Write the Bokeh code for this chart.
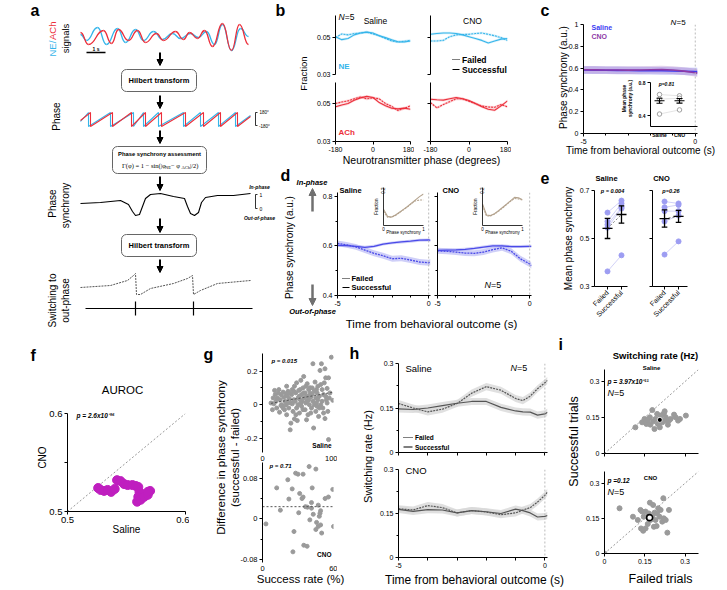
import math
from bokeh.plotting import figure
from bokeh.models import Range1d, FixedTicker, Column, Arrow, NormalHead, Span
from bokeh.core.properties import value
from bokeh.embed import file_html
from bokeh.resources import INLINE

FONT = "Liberation Sans"
SERIF = "Liberation Serif"

# ======================= DATA =======================
# (a) schematic traces (extremes)
a_ne_x = [80, 86, 97, 106, 117, 125, 135, 143, 153, 162, 172, 180, 190, 198, 206, 214, 222, 231, 240, 248]
a_ne_y = [34, 40, 27, 44, 28, 42, 29, 40, 31, 39, 33, 38, 33, 37, 31, 44, 24, 50, 28, 36]
a_ach_x = [80, 88, 103, 111, 118, 128, 137, 145, 156, 163, 175, 183, 189, 197, 204, 212, 222, 231, 239, 248]
a_ach_y = [32, 44, 30, 43, 29, 40, 30, 42, 33, 40, 31, 39, 32, 38, 30, 46, 23, 50, 24, 44]
a_ph_ne_x = [80, 88, 88, 110, 110, 133, 133, 143, 143, 158, 158, 183, 183, 200, 200, 218, 218, 235, 235, 250]
a_ph_ne_y = [121, 112, 126, 112, 126, 112, 126, 112, 126, 112, 126, 112, 126, 112, 126, 112, 126, 112, 126, 115]
a_ph_ach_x = [80, 90, 90, 112, 112, 131, 131, 145, 145, 161, 161, 185, 185, 203, 203, 220, 220, 237, 237, 250]
a_ph_ach_y = [120, 112, 126, 112, 126, 112, 126, 112, 126, 112, 126, 112, 126, 112, 126, 112, 126, 112, 126, 116]
a_sync_x = [80, 100, 120, 128, 132, 135, 139, 142, 145, 150, 160, 173, 184, 187, 190, 194, 198, 201, 205, 217, 233, 250]
a_sync_y = [203, 202, 200, 204, 211, 215, 214, 206, 198, 194, 193, 196, 198, 206, 213, 215, 212, 202, 197, 195, 195, 193]
a_sw_x = [80, 110, 127, 133, 135, 136, 140, 150, 173, 187, 192, 193, 200, 217, 250]
a_sw_y = [287, 285, 280, 275, 273, 294, 294, 288, 283, 278, 275, 294, 290, 283, 280]
a_events = [135, 193]

# (b) phase distributions
b_phase = [-180, -150, -120, -90, -60, -30, 0, 30, 60, 90, 120, 150, 180]
b_ne_sal_failed = [0.0500, 0.0520, 0.0515, 0.0522, 0.0525, 0.0530, 0.0520, 0.0510, 0.0495, 0.0482, 0.0476, 0.0480, 0.0485]
b_ne_sal_success = [0.0505, 0.0489, 0.0495, 0.0515, 0.0525, 0.0530, 0.0525, 0.0510, 0.0500, 0.0488, 0.0478, 0.0476, 0.0482]
b_ne_cno_failed = [0.0482, 0.0482, 0.0485, 0.0505, 0.0515, 0.0517, 0.0518, 0.0522, 0.0525, 0.0518, 0.0510, 0.0500, 0.0485]
b_ne_cno_success = [0.0518, 0.0522, 0.0525, 0.0525, 0.0522, 0.0515, 0.0505, 0.0495, 0.0485, 0.0471, 0.0482, 0.0492, 0.0495]
b_ach_sal_failed = [0.0500, 0.0508, 0.0514, 0.0525, 0.0535, 0.0525, 0.0530, 0.0525, 0.0500, 0.0485, 0.0463, 0.0475, 0.0488]
b_ach_sal_success = [0.0483, 0.0492, 0.0500, 0.0518, 0.0530, 0.0538, 0.0532, 0.0505, 0.0488, 0.0475, 0.0472, 0.0476, 0.0470]
b_ach_cno_failed = [0.0505, 0.0477, 0.0495, 0.0510, 0.0525, 0.0525, 0.0512, 0.0500, 0.0487, 0.0482, 0.0480, 0.0495, 0.0483]
b_ach_cno_success = [0.0523, 0.0520, 0.0518, 0.0525, 0.0532, 0.0525, 0.0516, 0.0500, 0.0483, 0.0470, 0.0465, 0.0488, 0.0514]
b_sem = 0.0007

# (c) phase synchrony, saline vs CNO
c_time = [-5, -4.5, -4, -3.5, -3, -2.5, -2, -1.5, -1, -0.5, 0, 0.1]
c_saline = [0.582, 0.581, 0.580, 0.579, 0.578, 0.577, 0.576, 0.575, 0.573, 0.571, 0.568, 0.568]
c_cno = [0.585, 0.584, 0.583, 0.582, 0.581, 0.583, 0.585, 0.586, 0.582, 0.572, 0.558, 0.554]
c_sem = 0.035
c_in_groups = [0, 1]
c_in_labels = ["Saline", "CNO"]
c_in_saline = [0.655, 0.600, 0.420]
c_in_cno = [0.640, 0.610, 0.470]
c_in_mean = [0.580, 0.580]
c_in_err = [0.030, 0.028]

# (d) phase synchrony, failed vs successful
d_time = [-5, -4.5, -4, -3.5, -3, -2.5, -2, -1.5, -1, -0.5, 0, 0.1]
d_sal_success = [0.602, 0.601, 0.598, 0.594, 0.598, 0.607, 0.612, 0.616, 0.619, 0.623, 0.624, 0.622]
d_sal_failed = [0.610, 0.604, 0.596, 0.583, 0.570, 0.560, 0.548, 0.550, 0.543, 0.535, 0.532, 0.535]
d_cno_success = [0.582, 0.583, 0.584, 0.586, 0.590, 0.595, 0.600, 0.600, 0.597, 0.597, 0.598, 0.598]
d_cno_failed = [0.580, 0.578, 0.575, 0.571, 0.570, 0.575, 0.585, 0.592, 0.578, 0.548, 0.527, 0.520]
d_sem_success = 0.006
d_sem_failed = 0.012
d_in_x = [0, 0.1, 0.2, 0.3, 0.4, 0.5, 0.6, 0.7, 0.8, 0.9, 1.0]
d_in_sal_success = [0.085, 0.048, 0.045, 0.055, 0.070, 0.085, 0.100, 0.118, 0.135, 0.152, 0.166]
d_in_sal_failed = [0.075, 0.044, 0.043, 0.053, 0.068, 0.083, 0.098, 0.115, 0.130, 0.134, 0.134]
d_in_cno_success = [0.114, 0.055, 0.052, 0.062, 0.078, 0.095, 0.112, 0.130, 0.148, 0.146, 0.136]
d_in_cno_failed = [0.105, 0.050, 0.050, 0.060, 0.075, 0.092, 0.110, 0.128, 0.142, 0.140, 0.134]

# (e) mean phase synchrony per animal
e_cats = [0, 1]
e_cat_labels = ["Failed", "Successful"]
e_sal_failed = [0.608, 0.571, 0.558, 0.545, 0.363]
e_sal_success = [0.658, 0.646, 0.630, 0.625, 0.430]
e_sal_mean = [0.542, 0.600]
e_sal_err = [0.042, 0.036]
e_cno_failed = [0.654, 0.630, 0.614, 0.571, 0.433]
e_cno_success = [0.646, 0.640, 0.614, 0.596, 0.488]
e_cno_mean = [0.583, 0.592]
e_cno_err = [0.036, 0.025]

# (f) AUROC saline vs CNO
f_saline = [0.526, 0.528, 0.531, 0.534, 0.537, 0.540, 0.542, 0.545, 0.548, 0.551, 0.555, 0.558, 0.560, 0.561, 0.560, 0.559, 0.562, 0.565, 0.568, 0.570, 0.568]
f_cno = [0.524, 0.522, 0.521, 0.522, 0.520, 0.523, 0.532, 0.531, 0.528, 0.527, 0.527, 0.526, 0.525, 0.520, 0.515, 0.510, 0.512, 0.515, 0.517, 0.521, 0.520]
f_diag = [0.5, 0.6]

# (g) difference vs success rate
g_sal_rate = [12, 14, 16, 17, 18, 20, 21, 22, 23, 24, 25, 26, 27, 28, 29, 30, 31, 32, 33, 34,
              35, 36, 37, 38, 39, 40, 40, 41, 42, 43, 44, 45, 45, 46, 47, 48, 49, 50, 50, 51,
              52, 53, 54, 55, 55, 56, 57, 58, 59, 60, 60, 61, 62, 63, 64, 65, 65, 66, 67, 68,
              69, 70, 71, 71, 72, 73, 74, 75, 75, 76, 77, 78, 79, 80, 81, 82, 83, 84, 85, 86,
              87, 88, 88, 89, 90, 91, 92, 93, 93, 95, 97, 99, 15, 19, 26, 33, 36, 42, 44, 47,
              52, 54, 57, 58, 61, 63, 66, 68, 70, 73, 76, 78, 80, 82, 84, 86, 89, 91, 94, 34,
              48, 62, 38, 29, 53, 67, 77]
g_sal_diff = [0.010, -0.030, 0.005, 0.085, 0.060, -0.020, 0.040, 0.070, 0.090, -0.045, 0.030, 0.060, 0.000, -0.010, 0.075, 0.045, -0.030, 0.020, 0.065, -0.060,
              0.050, 0.080, -0.020, 0.035, -0.150, 0.010, -0.110, 0.060, 0.090, -0.040, 0.030, -0.085, 0.110, 0.020, 0.070, -0.020, -0.095, 0.040, 0.000, 0.085,
              -0.050, 0.030, 0.145, 0.060, -0.010, 0.020, 0.100, 0.168, 0.040, -0.030, 0.070, 0.010, 0.050, 0.125, -0.060, 0.030, 0.090, 0.000, 0.101, 0.045,
              -0.020, 0.060, 0.244, 0.020, -0.139, 0.080, 0.135, 0.040, -0.040, 0.010, 0.070, 0.110, -0.070, 0.050, 0.204, 0.000, 0.244, 0.090, -0.020, 0.060,
              0.130, 0.214, -0.083, 0.160, 0.030, 0.097, -0.040, 0.160, -0.208, 0.070, 0.283, 0.026, 0.040, 0.020, -0.005, 0.000, 0.010, 0.005, 0.080, -0.060,
              0.050, 0.010, -0.030, 0.070, 0.110, 0.020, 0.050, -0.050, 0.100, 0.000, 0.090, 0.030, -0.020, 0.120, 0.020, -0.050, 0.050, 0.010, 0.040, 0.110,
              0.130, -0.090, 0.070, -0.020, 0.090, 0.070, -0.010]
g_sal_fit_x = [12, 100]
g_sal_fit_y = [0.008, 0.075]
g_cno_rate = [2.9, 12.0, 15.1, 21.4, 22.3, 25.1, 26.6, 25.7, 28.0, 30.0, 31.4, 30.6, 34.3, 33.4, 34.3, 34.9, 37.7, 36.3, 38.0, 39.4,
              41.4, 42.0, 41.4, 40.0, 42.9, 45.1, 45.7, 47.1, 47.1, 45.1, 48.6, 49.1, 48.0, 49.1, 52.9, 55.7, 59.4, 60.0, 50.0]
g_cno_diff = [-0.010, 0.061, 0.017, 0.077, 0.039, 0.059, -0.025, -0.065, 0.090, 0.088, 0.050, 0.012, 0.088, 0.040, 0.043, -0.052, -0.054, 0.024, 0.023, 0.103,
              0.032, 0.061, 0.021, -0.002, 0.009, 0.098, -0.007, 0.027, -0.015, -0.021, 0.011, 0.016, 0.005, -0.012, 0.040, 0.043, 0.058, -0.015, -0.028]
g_cno_fit_x = [0, 60]
g_cno_fit_y = [0.024, 0.024]

# (h) switching rate over time
h_time = [-5, -4.5, -4, -3.5, -3, -2.5, -2, -1.5, -1, -0.75, -0.5, -0.25, 0, 0.09]
h_sal_success = [0.147, 0.145, 0.150, 0.158, 0.166, 0.172, 0.172, 0.152, 0.140, 0.137, 0.136, 0.126, 0.130, 0.136]
h_sal_failed = [0.165, 0.150, 0.137, 0.146, 0.165, 0.200, 0.222, 0.210, 0.182, 0.175, 0.190, 0.215, 0.235, 0.243]
h_cno_success = [0.164, 0.157, 0.163, 0.162, 0.152, 0.160, 0.156, 0.150, 0.165, 0.160, 0.152, 0.138, 0.140, 0.143]
h_cno_failed = [0.166, 0.162, 0.177, 0.170, 0.152, 0.160, 0.155, 0.146, 0.152, 0.162, 0.170, 0.189, 0.212, 0.223]
h_sem = 0.012

# (i) switching rate failed vs successful
i_sal_failed = [0.115, 0.140, 0.149, 0.156, 0.161, 0.169, 0.178, 0.181, 0.186, 0.190, 0.196, 0.199, 0.206, 0.211, 0.215, 0.221, 0.224, 0.228, 0.231, 0.236,
                0.240, 0.246, 0.259, 0.265, 0.274, 0.281, 0.303, 0.171, 0.209]
i_sal_success = [0.109, 0.130, 0.144, 0.123, 0.140, 0.151, 0.181, 0.134, 0.102, 0.144, 0.165, 0.123, 0.109, 0.140, 0.130, 0.167, 0.176, 0.151, 0.137, 0.120,
                 0.137, 0.144, 0.162, 0.151, 0.137, 0.144, 0.158, 0.120, 0.158]
i_sal_mean = [0.206, 0.140]
i_cno_failed = [0.056, 0.106, 0.124, 0.134, 0.140, 0.146, 0.136, 0.144, 0.153, 0.161, 0.165, 0.169, 0.171, 0.178, 0.181, 0.186, 0.190, 0.194, 0.196, 0.200,
                0.205, 0.209, 0.215, 0.221, 0.219, 0.228, 0.234, 0.240, 0.153, 0.161, 0.184, 0.0]
i_cno_success = [0.193, 0.157, 0.143, 0.186, 0.179, 0.157, 0.107, 0.097, 0.107, 0.126, 0.171, 0.217, 0.143, 0.157, 0.207, 0.174, 0.143, 0.117, 0.171, 0.193,
                 0.157, 0.186, 0.136, 0.150, 0.236, 0.143, 0.089, 0.186, 0.179, 0.157, 0.114, 0.0]
i_cno_mean = [0.168, 0.153]
i_diag = [0, 0.35]

# ======================= STYLE =======================
NE_C = "#35b5ea"
ACH_C = "#ec2f3b"
D_LINE = "#4a4ae8"
D_BAND = "#a8a8f2"
C_SAL = "#3b3bf2"
C_CNO = "#8e3aa6"
E_PT = "#9d9df2"
F_MAG = "#bf1fbf"
G_PT = "#9a9a9a"
H_LINE = "#555555"
H_BAND = "#d8d8d8"
IN_D = "#b4a38e"
V = math.pi / 2
ML = 36   # identical left border for every figure
MR = 4    # identical right border for every figure


def panel(x0, y0, x1, y1, xr, yr, mt=4, mb=28, axes=True):
    w = (x1 - x0) + ML + MR
    h = (y1 - y0) + mt + mb
    kw = {} if axes else {"x_axis_type": None, "y_axis_type": None}
    p = figure(width=w, height=h, x_range=Range1d(*xr), y_range=Range1d(*yr),
               output_backend="svg", toolbar_location=None,
               min_border_left=ML, min_border_right=MR, min_border_top=mt, min_border_bottom=mb,
               styles={"position": "absolute", "left": f"{x0 - ML}px", "top": f"{y0 - mt}px"}, **kw)
    p.background_fill_color = None
    p.border_fill_color = None
    p.outline_line_color = None
    p.grid.visible = False
    for ax in p.axis:
        ax.axis_line_width = 1
        ax.axis_line_color = "black"
        ax.major_tick_in = 0
        ax.major_tick_out = 3
        ax.minor_tick_in = 0
        ax.minor_tick_out = 2
        ax.major_tick_line_color = "black"
        ax.minor_tick_line_color = "black"
        ax.major_label_text_font = FONT
        ax.major_label_text_font_size = "7px"
        ax.major_label_text_color = "black"
        ax.major_label_standoff = 2
    return p


def set_ticks(ax, major, labels=None, minor=None, size=None):
    ax.ticker = FixedTicker(ticks=list(major), minor_ticks=list(minor or []))
    if labels is None:
        labels = [""] * len(major)
    ax.major_label_overrides = {m: l for m, l in zip(major, labels)}
    if size:
        ax.major_label_text_font_size = size


def band(p, x, y, err, color, alpha):
    p.varea(x=x, y1=[v - err for v in y], y2=[v + err for v in y], fill_color=color, fill_alpha=alpha)


panels = []

# ======================= CANVASES (panel a + free texts), 2 x 2 tiles =======================
XS = 330   # left edge of right tiles
YS = 333   # row split
canv = [[panel(8, 0, 400, 335, (8, 400), (335, 0), mt=0, mb=0, axes=False),
         panel(330, 0, 719, 335, (330, 719), (335, 0), mt=0, mb=0, axes=False)],
        [panel(8, 330, 400, 590, (8, 400), (590, 330), mt=0, mb=0, axes=False),
         panel(330, 330, 719, 590, (330, 719), (590, 330), mt=0, mb=0, axes=False)]]


def pick(x, y, col=None):
    c = col if col is not None else (0 if x < XS else 1)
    r = 0 if y < YS else 1
    return canv[r][c]


def T(x, y, s, size, color="black", style="normal", align="left", baseline="middle", angle=0.0,
      font=FONT, col=None):
    pick(x, y, col).text(x=[x], y=[y], text=[s], text_font=value(font), text_font_size=value(f"{size}px"),
                         text_color=color, text_font_style=style, text_align=align,
                         text_baseline=baseline, angle=angle)


def L(xs, ys, color="black", width=1.0, dash="solid"):
    pick(min(xs), min(ys)).line(x=xs, y=ys, line_color=color, line_width=width, line_dash=dash)


def ARR(x, y0, y1, color="black", width=2.0, size=6):
    pick(x, min(y0, y1)).add_layout(Arrow(end=NormalHead(size=size, fill_color=color, line_color=color),
                                          x_start=x, y_start=y0, x_end=x, y_end=y1,
                                          line_color=color, line_width=width))


def smooth_wave(p, xs, ys, color, width):
    # smooth S-shaped Bezier segment between consecutive extremes (horizontal tangents at extremes)
    x0, x1 = xs[:-1], xs[1:]
    y0, y1 = ys[:-1], ys[1:]
    cx0 = [a + (b - a) / 2.0 for a, b in zip(x0, x1)]
    cx1 = [b - (b - a) / 2.0 for a, b in zip(x0, x1)]
    p.bezier(x0=x0, y0=y0, x1=x1, y1=y1, cx0=cx0, cy0=y0, cx1=cx1, cy1=y1,
             line_color=color, line_width=width)


CA = canv[0][0]
# panel a traces
smooth_wave(CA, a_ne_x, a_ne_y, NE_C, 1.3)
smooth_wave(CA, a_ach_x, a_ach_y, ACH_C, 1.3)
CA.line(a_ph_ne_x, a_ph_ne_y, line_color=NE_C, line_width=1.1)
CA.line(a_ph_ach_x, a_ph_ach_y, line_color=ACH_C, line_width=1.1)
CA.line(a_sync_x, a_sync_y, line_color="black", line_width=1.1, line_join="round")
CA.line(a_sw_x, a_sw_y, line_color="#555555", line_width=1.0, line_dash="2 1")
L([85, 252], [308, 308], width=1.2)
CA.segment(x0=a_events, x1=a_events, y0=[301] * len(a_events), y1=[315] * len(a_events),
           line_color="black", line_width=1.2)
L([86, 105], [52, 52], width=1.6)
T(95.5, 48.5, "1 s", 5, style="bold", align="center")

for (bx0, by0, bx1, by1) in [(121, 69, 196, 91), (112, 146, 206, 173), (121, 234, 196, 256)]:
    try:
        CA.quad(left=bx0, right=bx1, top=by0, bottom=by1, fill_color="white",
                line_color="#666666", line_width=1, border_radius=5)
    except Exception:
        CA.quad(left=bx0, right=bx1, top=by0, bottom=by1, fill_color="white",
                line_color="#666666", line_width=1)
T(158.5, 80, "Hilbert transform", 7.5, style="bold", align="center")
T(158.5, 245, "Hilbert transform", 7.5, style="bold", align="center")
T(159, 153, "Phase synchrony assessment", 5.8, style="bold", align="center")
T(121.5, 165, "Γ(φ) = 1 − sin(|φ", 6.5, font=SERIF)
T(164.5, 166.5, "NE", 4.5, font=SERIF)
T(170.5, 165, " − φ", 6.5, font=SERIF)
T(181, 166.5, "ACh", 4.5, font=SERIF)
T(189.5, 165, "|/2)", 6.5, font=SERIF)
for (ya, yb) in [(52, 65), (95, 108), (130, 143), (176, 190), (218, 232), (259, 272)]:
    ARR(159.5, ya, yb)

T(52, 56, "NE/", 9.5, color=NE_C, angle=V)
T(52, 39.5, "ACh", 9.5, color=ACH_C, angle=V)
T(64.5, 38, "signals", 9.5, align="center", angle=V)
T(56, 116, "Phase", 10, align="center", angle=V)
T(52, 203, "Phase", 10, align="center", angle=V)
T(65, 205, "synchrony", 10, align="center", angle=V)
T(52, 300, "Switching to", 10, align="center", angle=V)
T(65, 300, "out-phase", 10, align="center", angle=V)

L([257, 255, 255, 257], [112, 112, 125, 125], width=0.8)
T(259, 112, "180°", 4.5)
T(258.5, 126, "-180°", 4.5)
T(259, 186, "In-phase", 5, style="bold italic", align="center")
L([257, 255, 255, 257], [194, 194, 208, 208], width=0.8)
T(259, 194, "1", 5)
T(259, 208, "0", 5)
T(259, 217, "Out-of-phase", 5, style="bold italic", align="center")

# panel letters
for (lx, ly, lt) in [(30, 18, "a"), (275, 18, "b"), (540, 18, "c"), (280, 183, "d"), (540, 183, "e"),
                     (30, 363, "f"), (203, 362, "g"), (349, 361, "h"), (558, 352, "i")]:
    T(lx, ly, lt, 16, style="bold", baseline="bottom")

# panel b texts
T(338, 16, "N", 8.5, style="italic")
T(344.2, 16, "=5", 8.5)
T(375, 20.5, "Saline", 8.5, align="center")
T(472, 20.5, "CNO", 8.5, align="center")
T(338, 66, "NE", 8, color=NE_C, style="bold")
T(338, 132, "ACh", 8, color=ACH_C, style="bold")
L([452, 459], [59, 59], width=1.2, dash="1 1")
T(461.5, 59, "Failed", 8.5, style="bold")
L([452, 459], [69, 69], width=1.2)
T(461.5, 69, "Successful", 8.5, style="bold")
T(303, 73, "Fraction", 9.5, align="center", angle=V)
T(421, 159, "Neurotransmitter phase (degrees)", 10.5, align="center")

# panel c texts
T(591, 26.5, "Saline", 7, color=C_SAL, style="bold")
T(591, 36, "CNO", 7, color=C_CNO, style="bold")
T(670, 22, "N", 8, style="italic")
T(676, 22, "=5", 8)
T(563, 77, "Phase synchrony (a.u.)", 10, align="center", angle=V)
T(640, 150, "Time from behavioral outcome (s)", 10, align="center")
T(666, 83.5, "p=0.81", 5, style="bold italic", align="center")
T(623.5, 98, "Mean phase", 4.8, style="bold", align="center", angle=V)
T(629.5, 98, "synchrony (a.u.)", 4.8, style="bold", align="center", angle=V)

# panel d texts
T(339, 190, "Saline", 7.5, style="bold")
T(442, 190, "CNO", 7.5, style="bold")
T(311.5, 182, "In-phase", 7.5, style="bold italic", align="center")
ARR(312, 211, 188, color="#707070", width=2.5, size=7)
ARR(312, 284, 305, color="#707070", width=2.5, size=7)
T(312, 311, "Out-of-phase", 7.5, style="bold italic", align="center")
T(289, 247, "Phase synchrony (a.u.)", 10, align="center", angle=V)
T(431, 323, "Time from behavioral outcome (s)", 11.5, align="center")
L([342, 349], [278, 278], width=1.2, dash="1 1")
T(351, 278, "Failed", 7.5, style="bold")
L([342, 349], [287, 287], width=1.2)
T(351, 287, "Successful", 7.5, style="bold")
T(484, 284, "N", 9, style="italic")
T(490.5, 284, "=5", 9)
T(376, 206, "Fraction", 4.5, align="center", angle=V)
T(403, 231.5, "Phase synchrony", 4.5, align="center")
T(502, 231.5, "Phase synchrony", 4.5, align="center")
T(475, 206, "Fraction", 4.5, align="center", angle=V)

# panel e texts
T(606, 178, "Saline", 7.5, style="bold", align="center")
T(661, 178, "CNO", 7.5, style="bold", align="center")
T(612, 190, "p = 0.004", 5.5, style="bold italic", align="center")
T(670.5, 190, "p=0.26", 5.5, style="bold italic", align="center")
T(568, 238, "Mean phase synchrony", 10, align="center", angle=V)

# panel f texts
T(122, 389, "AUROC", 11.5, align="center")
T(76, 415, "p = 2.6x10⁻³⁶", 6.5, style="bold italic")
T(42, 457, "CNO", 10, align="center", angle=V)
T(126, 529, "Saline", 10, align="center")

# panel g texts
T(271, 360, "p = 0.015", 6, style="bold italic")
T(331, 445, "Saline", 6.5, style="bold", align="right", col=0)
T(269, 465.5, "p = 0.71", 6, style="bold italic")
T(331, 553.5, "CNO", 6.5, style="bold", align="right", col=0)
T(220, 457, "Difference in phase synchrony", 11.5, align="center", angle=V)
T(234, 457, "(successful - failed)", 11.5, align="center", angle=V)
T(300, 578, "Success rate (%)", 11.5, align="center")

# panel h texts
T(405, 367.5, "Saline", 9.5)
T(405, 469.5, "CNO", 9.5)
T(510, 367.5, "N", 9, style="italic")
T(516.5, 367.5, "=5", 9)
L([403, 412], [437, 437], width=1.1, dash="1 1")
T(414.5, 437, "Failed", 6.5, style="bold")
L([403, 412], [446.5, 446.5], width=1.1)
T(414.5, 446.5, "Successful", 6.5, style="bold")
T(367, 456, "Switching rate (Hz)", 11, align="center", angle=V)
T(474, 579, "Time from behavioral outcome (s)", 12, align="center")

# panel i texts
T(655, 355, "Switching rate (Hz)", 9.5, style="bold", align="center")
T(651, 367, "Saline", 6, style="bold", align="center")
T(607, 381, "p = 3.97x10⁻¹¹", 6.5, style="bold italic")
T(607, 392.5, "N", 9, style="italic")
T(613.5, 392.5, "=5", 9)
T(650, 477, "CNO", 6, style="bold", align="center")
T(607, 479.5, "p =0.12", 6.5, style="bold italic")
T(607, 491, "N", 9, style="italic")
T(613.5, 491, "=5", 9)
T(573, 441, "Successful trials", 12.5, align="center", angle=V)
T(660, 578, "Failed trials", 12.5, align="center")


# ======================= PANEL b =======================
def b_panel(x0, y0, x1, y1, ytop, failed, success, color, ylab, xlab):
    p = panel(x0, y0, x1, y1, (-180, 180), (0.03, ytop))
    band(p, b_phase, failed, b_sem, color, 0.2)
    band(p, b_phase, success, b_sem, color, 0.2)
    p.line(b_phase, failed, line_color=color, line_width=1.1, line_dash="2 1")
    p.line(b_phase, success, line_color=color, line_width=1.1)
    set_ticks(p.yaxis[0], [0.03, 0.05], ["0.03", "0.05"] if ylab else None)
    if xlab:
        set_ticks(p.xaxis[0], [-180, 0, 180], ["-180", "0", "180"])
    else:
        p.xaxis.visible = False
    panels.append(p)


b_panel(335, 15, 410, 74, 0.062, b_ne_sal_failed, b_ne_sal_success, NE_C, True, False)
b_panel(430, 15, 507, 74, 0.062, b_ne_cno_failed, b_ne_cno_success, NE_C, False, False)
b_panel(335, 82, 410, 141, 0.0611, b_ach_sal_failed, b_ach_sal_success, ACH_C, True, True)
b_panel(430, 82, 507, 141, 0.0611, b_ach_cno_failed, b_ach_cno_success, ACH_C, False, True)

# ======================= PANEL c =======================
cp = panel(583, 24, 697, 133, (-5, 0.1), (0, 1))
band(cp, c_time, c_saline, c_sem, "#8c8cf0", 0.45)
band(cp, c_time, c_cno, c_sem, "#b58cd0", 0.4)
cp.line(c_time, c_saline, line_color=C_SAL, line_width=1.6)
cp.line(c_time, c_cno, line_color=C_CNO, line_width=1.6)
cp.add_layout(Span(location=0, dimension="height", line_color="#bbbbbb", line_dash="2 2", line_width=1))
set_ticks(cp.yaxis[0], [0, 0.2, 0.4, 0.6, 0.8, 1], ["0", "0.2", "0.4", "0.6", "0.8", "1"])
set_ticks(cp.xaxis[0], [-5, 0], ["-5", "0"], minor=[-4, -3, -2, -1])
panels.append(cp)

ci = panel(650, 82, 697, 126, (-0.45, 1.9), (0.27, 0.8), mb=14, mt=4)
ci.segment(x0=[0] * 3, x1=[1] * 3, y0=c_in_saline, y1=c_in_cno, line_color="#dddddd", line_width=0.8)
ci.scatter([0] * 3, c_in_saline, size=4.5, marker="circle", fill_color="white", line_color="#a0a0a0")
ci.scatter([1] * 3, c_in_cno, size=4.5, marker="circle", fill_color="white", line_color="#a0a0a0")
ci.segment(x0=c_in_groups, x1=c_in_groups, y0=[m - e for m, e in zip(c_in_mean, c_in_err)],
           y1=[m + e for m, e in zip(c_in_mean, c_in_err)], line_color="black", line_width=1.1)
ci.segment(x0=[g - 0.25 for g in c_in_groups], x1=[g + 0.25 for g in c_in_groups], y0=c_in_mean, y1=c_in_mean,
           line_color="black", line_width=1.1)
for yy in ([m - e for m, e in zip(c_in_mean, c_in_err)], [m + e for m, e in zip(c_in_mean, c_in_err)]):
    ci.segment(x0=[g - 0.15 for g in c_in_groups], x1=[g + 0.15 for g in c_in_groups], y0=yy, y1=yy,
               line_color="black", line_width=1.1)
set_ticks(ci.yaxis[0], [0.4, 0.8], ["0.4", "0.8"], size="5px")
set_ticks(ci.xaxis[0], c_in_groups, c_in_labels, size="5px")
ci.xaxis.major_tick_line_color = None
ci.xaxis.major_label_text_font_style = "bold"
ci.yaxis.major_label_text_font_style = "bold"
panels.append(ci)


# ======================= PANEL d =======================
def d_panel(x0, x1, succ, fail, ylab):
    p = panel(x0, 192, x1, 295, (-5, 0.1), (0.4, 0.815))
    band(p, d_time, fail, d_sem_failed, D_BAND, 0.55)
    band(p, d_time, succ, d_sem_success, D_BAND, 0.55)
    p.line(d_time, succ, line_color=D_LINE, line_width=1.3)
    p.line(d_time, fail, line_color=D_LINE, line_width=1.3, line_dash="2 1")
    p.add_layout(Span(location=0, dimension="height", line_color="#bbbbbb", line_dash="2 2", line_width=1))
    set_ticks(p.yaxis[0], [0.4, 0.6, 0.8], ["0.4", "0.6", "0.8"] if ylab else None, minor=[0.5, 0.7])
    set_ticks(p.xaxis[0], [-5, 0], ["-5", "0"], minor=[-4, -3, -2, -1])
    panels.append(p)


d_panel(337, 430, d_sal_success, d_sal_failed, True)
d_panel(437, 531, d_cno_success, d_cno_failed, False)


def d_inset(x0, succ, fail):
    p = panel(x0, 187, x0 + 40, 225, (0, 1), (0, 0.2), mt=4, mb=10)
    p.line(d_in_x, succ, line_color=IN_D, line_width=1.1)
    p.line(d_in_x, fail, line_color=IN_D, line_width=1.1, line_dash="2 1")
    set_ticks(p.xaxis[0], [0, 1], ["0", "1"], size="4.5px")
    set_ticks(p.yaxis[0], [0, 0.2], ["", "0.2"], size="4.5px")
    p.yaxis.major_label_orientation = V
    for ax in p.axis:
        ax.major_tick_out = 0
        ax.major_label_standoff = 1
        ax.axis_line_width = 0.8
    panels.append(p)


d_inset(383, d_in_sal_success, d_in_sal_failed)
d_inset(482, d_in_cno_success, d_in_cno_failed)


# ======================= PANEL e =======================
def e_panel(x0, x1, xr, failed, success, mean, err, ylab):
    p = panel(x0, 190, x1, 286, xr, (0.3, 0.7), mb=45)
    n = len(failed)
    p.segment(x0=[0] * n, x1=[1] * n, y0=failed, y1=success, line_color="#d2d2f8", line_width=1)
    p.scatter([0] * n, failed, size=5, color=E_PT)
    p.scatter([1] * n, success, size=5, color=E_PT)
    p.line(e_cats, mean, line_color="#777777", line_dash="2 2", line_width=1)
    lo = [m - e for m, e in zip(mean, err)]
    hi = [m + e for m, e in zip(mean, err)]
    p.segment(x0=e_cats, x1=e_cats, y0=lo, y1=hi, line_color="black", line_width=1.3)
    p.segment(x0=[c - 0.36 for c in e_cats], x1=[c + 0.36 for c in e_cats], y0=mean, y1=mean,
              line_color="black", line_width=1.3)
    for yy in (lo, hi):
        p.segment(x0=[c - 0.2 for c in e_cats], x1=[c + 0.2 for c in e_cats], y0=yy, y1=yy,
                  line_color="black", line_width=1.3)
    set_ticks(p.yaxis[0], [0.3, 0.5, 0.7], ["0.3", "0.5", "0.7"] if ylab else None)
    set_ticks(p.xaxis[0], e_cats, e_cat_labels)
    p.xaxis.major_label_orientation = math.pi / 4
    p.xaxis.major_label_text_font_size = "7px"
    panels.append(p)


e_panel(594, 627, (-0.93, 1.43), e_sal_failed, e_sal_success, e_sal_mean, e_sal_err, True)
e_panel(652, 687, (-0.86, 1.64), e_cno_failed, e_cno_success, e_cno_mean, e_cno_err, False)

# ======================= PANEL f =======================
fp = panel(67, 413, 185, 511, (0.5, 0.6), (0.5, 0.6), mb=28)
fp.line(f_diag, f_diag, line_color="#999999", line_dash="2 2", line_width=1)
fp.scatter(f_saline, f_cno, size=9, color=F_MAG)
set_ticks(fp.xaxis[0], [0.5, 0.6], ["0.5", "0.6"], size="9.5px")
set_ticks(fp.yaxis[0], [0.5, 0.55, 0.6], ["0.5", "", "0.6"], size="9.5px")
panels.append(fp)

# ======================= PANEL g =======================
gp1 = panel(262, 353, 333, 452, (0, 100), (-0.285, 0.305))
gp1.scatter(g_sal_rate, g_sal_diff, size=4, color=G_PT)
gp1.line(g_sal_fit_x, g_sal_fit_y, line_color="#555555", line_dash="2 2", line_width=1)
set_ticks(gp1.yaxis[0], [-0.2, 0, 0.2], ["-0.2", "0", "0.2"], minor=[-0.1, 0.1], size="7.5px")
set_ticks(gp1.xaxis[0], [0, 100], ["0", "100"], size="7.5px")
gp1.xaxis.axis_line_color = None
gp1.xaxis.major_tick_line_color = None
gp1.xaxis.major_label_standoff = 0
panels.append(gp1)

gp2 = panel(262, 462, 333, 562, (0, 60), (-0.086, 0.111), mb=24)
gp2.scatter(g_cno_rate, g_cno_diff, size=4, color=G_PT)
gp2.line(g_cno_fit_x, g_cno_fit_y, line_color="#555555", line_dash="2 2", line_width=1)
set_ticks(gp2.yaxis[0], [-0.08, 0, 0.08], ["-0.08", "0", "0.08"], minor=[-0.04, 0.04], size="7.5px")
set_ticks(gp2.xaxis[0], [0, 60], ["0", "60"], size="7.5px")
gp2.xaxis.axis_line_color = None
gp2.xaxis.major_tick_line_color = None
gp2.xaxis.major_label_standoff = 0
panels.append(gp2)


# ======================= PANEL h =======================
def h_panel(y0, y1, succ, fail, xlab):
    p = panel(398, y0, 547, y1, (-5, 0.09), (0, 0.3))
    band(p, h_time, succ, h_sem, H_BAND, 0.8)
    band(p, h_time, fail, h_sem, H_BAND, 0.8)
    p.line(h_time, succ, line_color=H_LINE, line_width=1.2)
    p.line(h_time, fail, line_color=H_LINE, line_width=1.2, line_dash="2 1")
    p.add_layout(Span(location=0, dimension="height", line_color="#bbbbbb", line_dash="2 2", line_width=1))
    set_ticks(p.yaxis[0], [0, 0.15, 0.3], ["0", "0.15", "0.3"], minor=[0.075, 0.225])
    set_ticks(p.xaxis[0], [-5, -4, -3, -2, -1, 0], ["-5", "", "", "", "", "0"] if xlab else None)
    panels.append(p)


h_panel(363, 452, h_sal_success, h_sal_failed, False)
h_panel(469, 557, h_cno_success, h_cno_failed, True)


# ======================= PANEL i =======================
def i_panel(y0, y1, fx, sy, mean, xlab, open_mean):
    p = panel(604, y0, 698, y1, (0, 0.35), (0, 0.35))
    p.line(i_diag, i_diag, line_color="#999999", line_dash="2 2", line_width=1)
    p.scatter(fx, sy, size=5, color=G_PT)
    if open_mean:
        p.scatter([mean[0]], [mean[1]], size=6, fill_color="white", line_color="black", line_width=1.6)
    else:
        p.scatter([mean[0]], [mean[1]], size=5, fill_color="black", line_color="white", line_width=0.8)
    set_ticks(p.yaxis[0], [0, 0.15, 0.3], ["0", "0.15", "0.3"])
    set_ticks(p.xaxis[0], [0, 0.15, 0.3], ["0", "0.15", "0.3"] if xlab else None)
    panels.append(p)


i_panel(369, 453, i_sal_failed, i_sal_success, i_sal_mean, False, False)
i_panel(471, 553, i_cno_failed, i_cno_success, i_cno_mean, True, True)

root = Column(children=[canv[0][0], canv[0][1], canv[1][0], canv[1][1]] + panels,
              width=711, height=574, sizing_mode="fixed", styles={"position": "relative"})

open("out.html", "w").write(file_html(root, INLINE))
